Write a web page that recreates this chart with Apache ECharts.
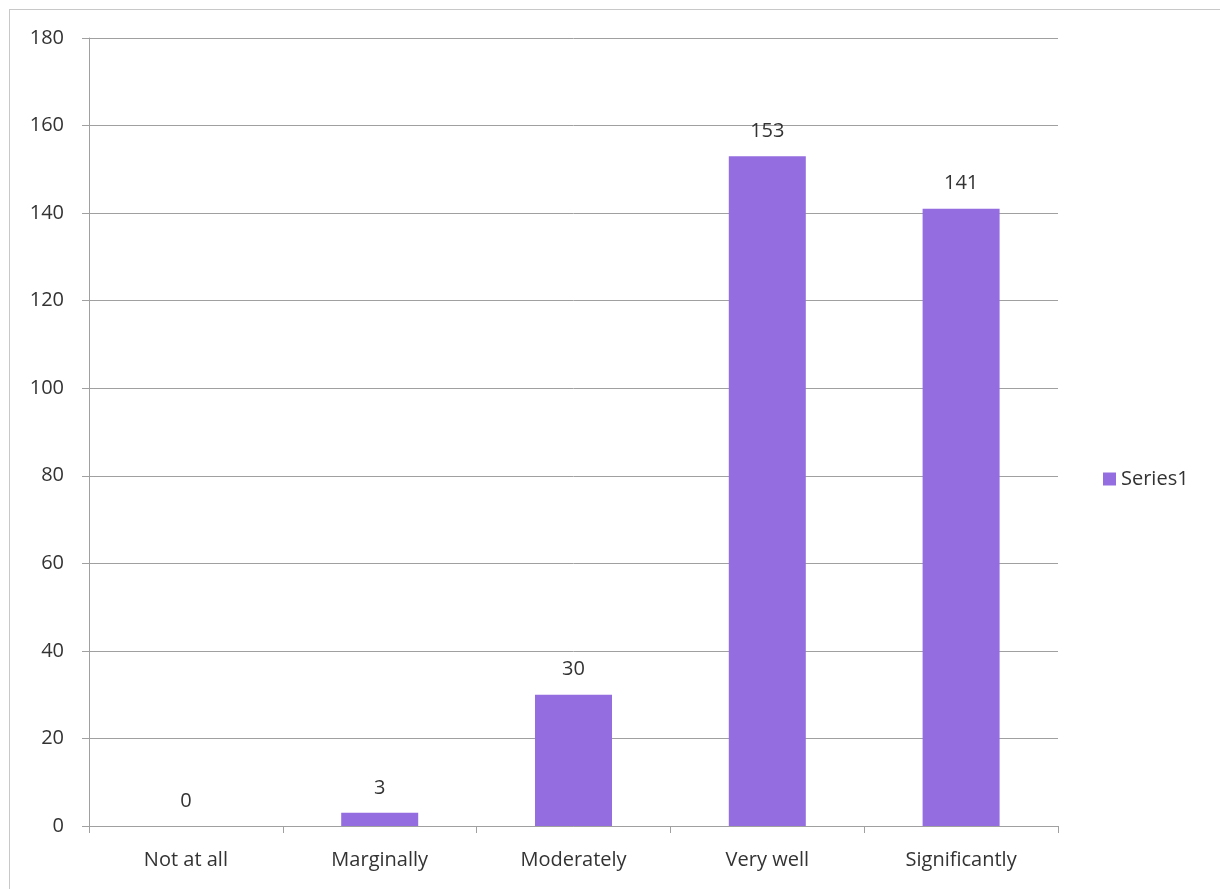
<!DOCTYPE html>
<html>
<head>
<meta charset="utf-8">
<script src="https://cdn.jsdelivr.net/npm/echarts@6/dist/echarts.min.js"></script>
<style>
html,body{margin:0;padding:0;background:#fff;}
#frame{position:absolute;left:9px;top:9px;width:1211px;height:880px;border-top:1px solid #c8c8c8;border-left:1px solid #c8c8c8;}
#chart{position:absolute;left:0;top:0;width:1220px;height:889px;}
</style>
</head>
<body>
<div id="frame"></div>
<div id="chart"></div>
<script>
const categories = ['Not at all', 'Marginally', 'Moderately', 'Very well', 'Significantly'];
const series1 = [0, 3, 30, 153, 141];
const seriesName = 'Series1';

const chart = echarts.init(document.getElementById('chart'));
const font = '"Open Sans", "Liberation Sans", sans-serif';
chart.setOption({
  animation: false,
  textStyle: { fontFamily: font },
  grid: { left: 89, right: 162, top: 38, bottom: 63, containLabel: false },
  legend: {
    orient: 'vertical', left: 1098, top: 464,
    itemWidth: 13, itemHeight: 13, itemGap: 8,
    icon: 'rect',
    textStyle: { fontSize: 20, color: '#333', fontFamily: font },
    data: [seriesName]
  },
  xAxis: {
    type: 'category', data: categories,
    axisLine: { lineStyle: { color: '#a0a0a0', width: 1 } },
    axisTick: { show: true, alignWithLabel: false, length: 7, lineStyle: { color: '#a0a0a0' } },
    axisLabel: { fontSize: 20, color: '#333', margin: 24, fontFamily: font }
  },
  yAxis: {
    type: 'value', min: 0, max: 180, interval: 20,
    axisLine: { show: true, lineStyle: { color: '#a0a0a0', width: 1 } },
    axisTick: { show: true, length: 7, lineStyle: { color: '#a0a0a0' } },
    splitLine: { lineStyle: { color: '#a0a0a0', width: 1 } },
    axisLabel: { fontSize: 20, color: '#333', margin: 25, fontFamily: font }
  },
  series: [{
    name: seriesName, type: 'bar', data: series1, barWidth: 77,
    itemStyle: { color: '#946ee0' },
    label: { show: true, position: 'top', distance: 15, fontSize: 20, color: '#333', fontFamily: font }
  }]
});
</script>
</body>
</html>
